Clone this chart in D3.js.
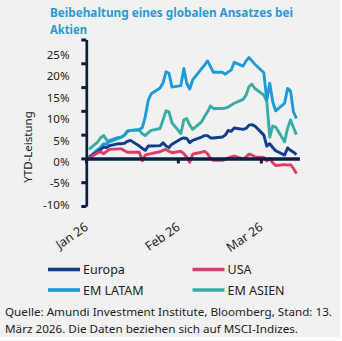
<!DOCTYPE html>
<html><head><meta charset="utf-8">
<script src="https://cdn.jsdelivr.net/npm/d3@7"></script>
<style>
html,body{margin:0;padding:0;background:#fff;}
svg{display:block;font-family:"Noto Sans",sans-serif;}
</style></head>
<body><svg id="c" width="342" height="341"></svg>
<script>
const dates = ["2026-01-02","2026-01-05","2026-01-06","2026-01-07","2026-01-08","2026-01-09",
"2026-01-12","2026-01-13","2026-01-14","2026-01-15","2026-01-16",
"2026-01-19","2026-01-20","2026-01-21","2026-01-22","2026-01-23",
"2026-01-26","2026-01-27","2026-01-28","2026-01-29","2026-01-30",
"2026-02-02","2026-02-03","2026-02-04","2026-02-05","2026-02-06",
"2026-02-09","2026-02-10","2026-02-11","2026-02-12","2026-02-13",
"2026-02-16","2026-02-17","2026-02-18","2026-02-19","2026-02-20",
"2026-02-23","2026-02-24","2026-02-25","2026-02-26","2026-02-27",
"2026-03-02","2026-03-03","2026-03-04","2026-03-05","2026-03-06",
"2026-03-09","2026-03-10","2026-03-11","2026-03-12","2026-03-13"];
const europa = [0.3,1.4,1.9,2.4,2.3,2.7, 3.1,3.1,3.2,3.6,3.8, 2.6,2.1,1.7,2.6,2.6, 2.7,3.3,2.6,2.3,3.0,
 4.1,4.3,4.2,3.3,3.8, 4.5,4.8,4.8,4.3,4.3, 4.5,4.9,5.9,5.7,6.4, 6.1,6.3,7.0,7.1,6.8,
 4.9,2.6,3.1,2.3,1.6, 0.7,2.2,1.7,1.3,0.8];
const usa = [0.1,1.2,1.4,1.0,1.5,1.9, 2.0,2.0,1.6,1.3,1.3, 1.3,-0.5,0.7,0.9,1.0, 1.4,1.7,1.9,1.5,1.2,
 1.5,1.0,0.3,-0.8,0.9, 1.3,1.5,1.0,0.0,-0.4, -0.4,-0.2,0.1,0.3,0.5, -0.1,0.3,0.9,0.7,0.3,
 0.2,-0.5,0.0,-0.9,-1.5, -1.3,-1.4,-1.3,-2.1,-3.2];
const emLatam = [0.2,1.9,2.4,3.1,3.0,3.8, 4.4,4.5,4.9,5.8,5.9, 6.1,6.5,8.8,12.2,13.6, 14.8,15.9,18.2,17.9,15.0,
 15.3,18.9,15.8,14.6,16.5, 18.9,19.6,20.5,19.3,18.1, 18.1,17.7,18.2,18.6,20.2, 19.4,20.5,21.2,20.5,19.8,
 18.0,12.3,15.8,11.9,10.0, 11.6,14.7,14.2,9.8,8.4];
const emAsien = [1.9,3.5,4.4,4.8,3.8,3.5, 4.2,4.5,4.9,5.6,5.9, 5.9,5.2,4.8,5.4,5.9, 6.3,8.1,10.0,9.8,7.5,
 5.2,8.1,8.4,7.0,6.1, 7.7,8.8,9.8,11.0,10.5, 10.5,10.6,10.8,11.2,11.6, 12.4,13.3,15.1,15.6,14.7,
 13.3,12.0,4.5,6.8,6.6, 3.5,6.3,8.1,6.5,5.0];
const yTicks = [25,20,15,10,5,0,-5,-10];
const xTickDates = ["2026-01-01","2026-02-01","2026-03-01"];
const seriesNames = ["Europa","USA","EM LATAM","EM ASIEN"];
const colors = {"Europa":"#0f3f8a","USA":"#e03a66","EM LATAM":"#1d9ad8","EM ASIEN":"#3aaca8"};
const titleLines = ["Beibehaltung eines globalen Ansatzes bei","Aktien"];
const yTitle = "YTD-Leistung";
const footer = ["Quelle: Amundi Investment Institute, Bloomberg, Stand: 13.","März 2026. Die Daten beziehen sich auf MSCI-Indizes."];

const svg = d3.select("#c");
const navy = "#0b1f45";
svg.append("rect").attr("width",340).attr("height",337).attr("fill","#f1f1f1");

const parse = d3.timeParse("%Y-%m-%d");
const x = d3.scaleTime().domain([parse("2026-01-01"), parse("2026-03-14")]).range([86, 299.4]);
const y = d3.scaleLinear().domain([-10,25]).range([206,39.5]);
const yLab = d3.scaleLinear().domain([-10,25]).range([204.7,54.7]);

// title
svg.selectAll("text.title").data(titleLines).join("text").attr("class","title")
  .attr("x",50).attr("y",(d,i)=>17+i*17).attr("fill","#2a9ad6")
  .attr("font-size",13).attr("font-weight","bold")
  .attr("textLength",(d,i)=>i===0?243:37).attr("lengthAdjust","spacingAndGlyphs")
  .text(d=>d);

// series lines
const allSeries = {"Europa":europa,"USA":usa,"EM LATAM":emLatam,"EM ASIEN":emAsien};
const line = d3.line().x(d=>x(d.date)).y(d=>y(d.v)).curve(d3.curveLinear);
const drawOrder = ["EM ASIEN","EM LATAM","Europa","USA"];
drawOrder.forEach(name=>{
  const data = dates.map((d,i)=>({date:parse(d), v:allSeries[name][i]}));
  svg.append("path").datum(data).attr("d",line).attr("fill","none")
    .attr("stroke",colors[name]).attr("stroke-width",2.9).attr("stroke-linejoin","round");
});

// x axis (zero line)
const xAxis = d3.axisBottom(x).tickValues(xTickDates.map(parse)).tickSize(5).tickSizeOuter(0).tickFormat(()=>"");
const gx = svg.append("g").attr("transform",`translate(0,${y(0)})`).call(xAxis);
gx.select(".domain").attr("stroke",navy).attr("stroke-width",3.6);
gx.selectAll(".tick line").attr("stroke",navy).attr("stroke-width",3);

// x labels
const fmt = d3.timeFormat("%b %y");
svg.selectAll("text.xl").data(xTickDates.map(parse)).join("text").attr("class","xl")
  .attr("transform",d=>`translate(${x(d)+3},${229}) rotate(-35)`)
  .attr("text-anchor","end").attr("font-size",12.5).attr("fill","#222").text(d=>fmt(d));

// y axis
const yAxis = d3.axisLeft(y).tickValues(yTicks).tickSize(5).tickSizeOuter(0).tickFormat(()=>"");
const gy = svg.append("g").attr("transform","translate(86.3,0)").call(yAxis);
gy.select(".domain").attr("stroke",navy).attr("stroke-width",2.7);
gy.selectAll(".tick line").attr("stroke",navy).attr("stroke-width",3);

const yLabAxis = d3.axisLeft(yLab).tickValues(yTicks).tickSize(0).tickPadding(0).tickFormat(d=>d+"%");
const gyl = svg.append("g").attr("transform","translate(69.5,0)").call(yLabAxis);
gyl.select(".domain").remove();
gyl.selectAll("text").attr("font-size",11.5).attr("fill","#222").attr("font-family","Noto Sans, sans-serif");

svg.append("text").attr("transform","translate(32,147) rotate(-90)").attr("text-anchor","middle")
  .attr("font-size",11.5).attr("fill","#222").text(yTitle);

// legend
const legPos = [[48,269.5],[192.5,269.5],[48,290],[192.5,290]];
seriesNames.forEach((name,i)=>{
  const [lx,ly] = legPos[i];
  svg.append("line").attr("x1",lx).attr("x2",lx+32).attr("y1",ly).attr("y2",ly)
    .attr("stroke",colors[name]).attr("stroke-width",3.6);
  svg.append("text").attr("x",lx+35).attr("y",ly+4.5).attr("font-size",12.5).attr("fill","#222").text(name);
});

// footer
svg.selectAll("text.ft").data(footer).join("text").attr("class","ft")
  .attr("x",5).attr("y",(d,i)=>316+i*17).attr("font-size",11.5).attr("fill","#222")
  .attr("textLength",(d,i)=>i===0?327:293).attr("lengthAdjust","spacingAndGlyphs")
  .text(d=>d);
</script></body></html>
